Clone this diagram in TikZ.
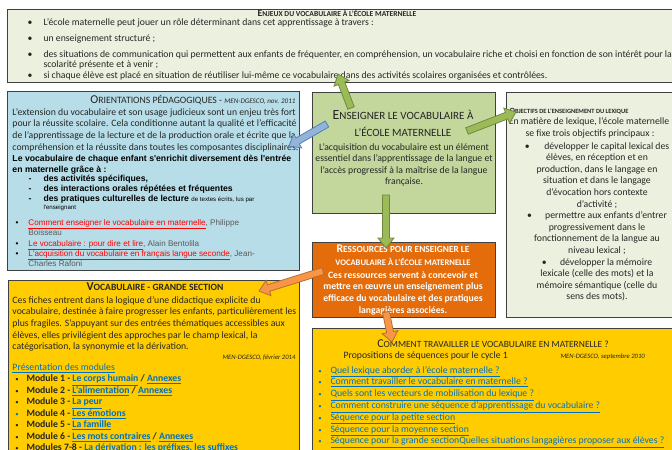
\documentclass[tikz,border=0pt]{standalone}
\usepackage{fontspec}
\setmainfont{Carlito}
\newfontfamily\arialfont{Liberation Sans}
\usetikzlibrary{calc}

\definecolor{paleGreen}{RGB}{235,241,222}
\definecolor{oliveGreen}{RGB}{195,214,155}
\definecolor{paleBlue}{RGB}{183,221,232}
\definecolor{ressOrange}{RGB}{228,108,10}
\definecolor{goldBox}{RGB}{255,204,0}
\definecolor{linkBlue}{RGB}{0,112,192}
\definecolor{linkRed}{RGB}{255,0,0}
\definecolor{authGrey}{RGB}{89,89,89}
\definecolor{txtDark}{RGB}{38,38,38}
\definecolor{arrGreen}{RGB}{155,187,89}
\definecolor{arrGreenD}{RGB}{113,137,63}
\definecolor{arrBlue}{RGB}{149,179,215}
\definecolor{arrBlueD}{RGB}{79,129,189}
\definecolor{arrOrange}{RGB}{247,150,70}
\definecolor{arrOrangeD}{RGB}{182,109,49}
\definecolor{boxLine}{RGB}{64,64,64}

\tikzset{every picture/.style={line width=0.75pt}}
\tikzset{
  txt/.style={inner sep=0pt, text=txtDark, font=\fontsize{7.3}{8.8}\selectfont},
  txtb/.style={inner sep=0pt, text=txtDark, font=\bfseries\fontsize{7.3}{8.8}\selectfont},
  boldarial/.style={inner sep=0pt, text=black, font=\arialfont\bfseries\fontsize{6.5}{7.5}\selectfont},
  linkarial/.style={inner sep=0pt, text=authGrey, font=\arialfont\fontsize{6.1}{7.5}\selectfont},
  italsrc/.style={inner sep=0pt, text=txtDark, font=\itshape\fontsize{5}{6}\selectfont},
  panel/.style={draw=boxLine, line width=0.75pt},
  greenarr/.style={fill=arrGreen, draw=arrGreenD, line width=0.6pt},
  bluearr/.style={fill=arrBlue, draw=arrBlueD, line width=0.6pt},
  orangearr/.style={fill=arrOrange, draw=arrOrangeD, line width=0.6pt},
}

% initial capital + small capitals
\newcommand{\smcaps}[4]{{\fontsize{#1}{#1}\selectfont #3}{\fontsize{#2}{#2}\selectfont #4}}
\newcommand{\lnkb}[1]{{\color{linkBlue}\underline{#1}}}
\newcommand{\lnkr}[1]{{\color{linkRed}\underline{#1}}}
% shape: right arrow between two coordinates
\newcommand{\blockarrow}[3]{%
  \coordinate (ah) at ($(#2)!7.5pt!(#1)$);
  \draw [#3] ($(#1)!2.6pt!90:(#2)$) -- ($(ah)!2.6pt!90:(#2)$) -- ($(ah)!6pt!90:(#2)$) -- (#2) -- ($(ah)!6pt!-90:(#2)$) -- ($(ah)!2.6pt!-90:(#2)$) -- ($(#1)!2.6pt!-90:(#2)$) -- cycle ;}

\begin{document}
\begin{tikzpicture}[x=0.75pt,y=0.75pt,yscale=-1,xscale=1]
\path [use as bounding box] (0,0) rectangle (672,450);
\clip (0,0) rectangle (672,450);

%Shape: Rectangle [enjeux]
\draw [panel, fill=paleGreen] (7,9) rectangle (690,82) ;
%Shape: Rectangle [orientations]
\draw [panel, fill=paleBlue] (7,91) rectangle (299,270) ;
%Shape: Rectangle [enseigner]
\draw [panel, fill=oliveGreen] (312,92) rectangle (495,213) ;
%Shape: Rectangle [objectifs]
\draw [panel, fill=paleGreen] (506,92) rectangle (690,317) ;
%Shape: Rectangle [ressources]
\draw [panel, fill=ressOrange] (312,242) rectangle (495,317) ;
%Shape: Rectangle [grande section]
\draw [panel, fill=goldBox] (8,280) rectangle (299,460) ;
%Shape: Rectangle [comment travailler]
\draw [panel, fill=goldBox] (312,328) rectangle (690,460) ;

% Text Node
\draw (337,16.5) node (enjT) [txt, anchor=base, font=\bfseries] {\smcaps{7.3}{5.7}{E}{NJEUX DU VOCABULAIRE À L'ÉCOLE MATERNELLE}};
% Text Node
\foreach \y [count=\i] in {25.5,41,57,78}
  \draw (30,\y) node (enjB\i) [txt, anchor=base] {\textbullet};
\draw (43,25.5) node (enj1) [txt, anchor=base west] {L'école maternelle peut jouer un rôle déterminant dans cet apprentissage à travers :};
\draw (43,41) node (enj2) [txt, anchor=base west] {un enseignement structuré ;};
\draw (43,57) node (enj3) [txt, anchor=base west] {des situations de communication qui permettent aux enfants de fréquenter, en compréhension, un vocabulaire riche et choisi en fonction de son intérêt pour la};
\draw (43,67.5) node (enj3b) [txt, anchor=base west] {scolarité présente et à venir ;};
\draw (43,78) node (enj4) [txt, anchor=base west] {si chaque élève est placé en situation de réutiliser lui-même ce vocabulaire dans des activités scolaires organisées et contrôlées.};

% Text Node
\draw (296,103) node (oriT) [txt, anchor=base east] {\smcaps{9}{7.3}{O}{RIENTATIONS PÉDAGOGIQUES -} {\itshape\fontsize{5.3}{5}\selectfont MEN-DGESCO, nov. 2011}};
\foreach \ln [count=\i from 0] in {{L'extension du vocabulaire et son usage judicieux sont un enjeu très fort},{pour la réussite scolaire. Cela conditionne autant la qualité et l'efficacité},{de l'apprentissage de la lecture et de la production orale et écrite que la},{compréhension et la réussite dans toutes les composantes disciplinaires.}}
  \draw (12,115+11.7*\i) node (ori\i) [txt, anchor=base west] {\ln};
\draw (12,161) node (oriV1) [boldarial, anchor=base west] {Le vocabulaire de chaque enfant s'enrichit diversement dès l'entrée};
\draw (12,172) node (oriV2) [boldarial, anchor=base west] {en maternelle grâce à :};
\foreach \ln [count=\i from 0] in {{des activités spécifiques,},{des interactions orales répétées et fréquentes},{des pratiques culturelles de lecture {\mdseries\fontsize{4.6}{5}\selectfont de textes écrits, lus par}}}
  \draw (30,181+10*\i) node (oriD\i) [boldarial, anchor=base] {-} (43,181+10*\i) node (oriL\i) [boldarial, anchor=base west] {\ln};
\draw (43,209) node (oriL3) [linkarial, anchor=base west, text=black, font=\arialfont\fontsize{4.6}{5}\selectfont] {l'enseignant};
\foreach \y [count=\i] in {225,246,256}
  \draw (17,\y) node (oriB\i) [linkarial, anchor=base, text=black] {\textbullet};
\draw (28,225) node (ref1) [linkarial, anchor=base west] {\lnkr{Comment enseigner le vocabulaire en maternelle}, Philippe};
\draw (28,235.5) node (ref1b) [linkarial, anchor=base west] {Boisseau};
\draw (28,246) node (ref2) [linkarial, anchor=base west] {\lnkr{Le vocabulaire : pour dire et lire}, Alain Bentolila};
\draw (28,256) node (ref3) [linkarial, anchor=base west] {\lnkr{L'acquisition du vocabulaire en français langue seconde}, Jean-};
\draw (28,266.5) node (ref3b) [linkarial, anchor=base west] {Charles Rafoni};

% Text Node
\draw (403,119) node (ensT1) [txt, anchor=base] {\smcaps{10.5}{8.3}{E}{NSEIGNER LE VOCABULAIRE À}};
\draw (403,136) node (ensT2) [txt, anchor=base] {\smcaps{8.3}{8.3}{}{L'ÉCOLE MATERNELLE}};
\foreach \ln [count=\i from 0] in {{L'acquisition du vocabulaire est un élément},{essentiel dans l'apprentissage de la langue et},{l'accès progressif à la maîtrise de la langue},{française.}}
  \draw (404,150+11.5*\i) node (ens\i) [txt, anchor=base] {\ln};

% Text Node
\draw (569,113) node (objT) [txt, anchor=base, font=\bfseries] {\smcaps{6}{4.8}{O}{BJECTIFS DE L'ENSEIGNEMENT DU LEXIQUE}};
\draw (589,124.5) node (obj0) [txt, anchor=base] {En matière de lexique, l'école maternelle};
\draw (590,136) node (objA) [txt, anchor=base] {se fixe trois objectifs principaux :};
\foreach \ln [count=\i from 0] in {{\textbullet\hspace{11pt}développer le capital lexical des},{élèves, en réception et en},{production, dans le langage en},{situation et dans le langage},{d'évocation hors contexte},{d'activité ;},{\textbullet\hspace{10pt}permettre aux enfants d'entrer},{progressivement dans le},{fonctionnement de la langue au},{niveau lexical ;},{\textbullet\hspace{10pt}développer la mémoire},{lexicale (celle des mots) et la},{mémoire sémantique (celle du},{sens des mots).}}
  \draw (597,149+11.6*\i) node (obj\i) [txt, anchor=base] {\ln};

% Text Node
\draw (403,252) node (resT1) [txt, anchor=base, text=white, font=\bfseries] {\smcaps{8.8}{7}{R}{ESSOURCES POUR ENSEIGNER LE}};
\draw (403,265.5) node (resT2) [txt, anchor=base, text=white, font=\bfseries] {\smcaps{6.4}{6.4}{}{VOCABULAIRE À L'ÉCOLE MATERNELLE}};
\foreach \ln [count=\i from 0] in {{Ces ressources servent à concevoir et},{mettre en œuvre un enseignement plus},{efficace du vocabulaire et des pratiques},{langagières associées.}}
  \draw (403,278+11.7*\i) node (res\i) [txtb, anchor=base, text=white] {\ln};

% Text Node
\draw (155,290) node (gsT) [txt, anchor=base, font=\bfseries] {\smcaps{9}{7.2}{V}{OCABULAIRE - GRANDE SECTION}};
\foreach \ln [count=\i from 0] in {{Ces fiches entrent dans la logique d'une didactique explicite du},{vocabulaire, destinée à faire progresser les enfants, particulièrement les},{plus fragiles. S'appuyant sur des entrées thématiques accessibles aux},{élèves, elles privilégient des approches par le champ lexical, la},{catégorisation, la synonymie et la dérivation.}}
  \draw (12,303+11.7*\i) node (gs\i) [txt, anchor=base west] {\ln};
\draw (296,359) node (gsSrc) [italsrc, anchor=base east] {MEN-DGESCO, février 2014};
\draw (12,370) node (gsPres) [txt, anchor=base west] {\lnkb{Présentation des modules}};
\foreach \ln/\bc [count=\i from 0] in {{Module 1 - \lnkb{Le corps humain} / \lnkb{Annexes}}/txtDark,{Module 2 - \lnkb{L'alimentation} / \lnkb{Annexes}}/txtDark,{Module 3 - \lnkb{La peur}}/txtDark,{Module 4 - \lnkb{Les émotions}}/linkBlue,{Module 5 - \lnkb{La famille}}/txtDark,{Module 6 - \lnkb{Les mots contraires} / \lnkb{Annexes}}/txtDark,{Modules 7-8 - \lnkb{La dérivation : les préfixes, les suffixes}}/txtDark}
  \draw (17,381.5+11.5*\i) node (gsB\i) [txt, anchor=base, text=\bc, font=\fontsize{5}{5}\selectfont] {\textbullet} (26,381.5+11.5*\i) node (gsM\i) [txtb, anchor=base west] {\ln};

% Text Node
\draw (493,347) node (ctT) [txt, anchor=base] {\smcaps{9}{7.1}{C}{OMMENT TRAVAILLER LE VOCABULAIRE EN MATERNELLE ?}};
\draw (343,358) node (ctSub) [txt, anchor=base west] {Propositions de séquences pour le cycle 1};
\draw (560,358) node (ctSrc) [italsrc, anchor=base west] {MEN-DGESCO, septembre 2010};
\foreach \ln [count=\i from 0] in {{Quel lexique aborder à l'école maternelle ?},{Comment travailler le vocabulaire en maternelle ?},{Quels sont les vecteurs de mobilisation du lexique ?},{Comment construire une séquence d'apprentissage du vocabulaire ?},{Séquence pour la petite section},{Séquence pour la moyenne section},{Séquence pour la grande sectionQuelles situations langagières proposer aux élèves ?}}
  \draw (320,373+11.8*\i) node (ctB\i) [txt, anchor=base, text=linkBlue, font=\fontsize{5}{5}\selectfont] {\textbullet} (330,373+11.8*\i) node (ct\i) [txt, anchor=base west] {\lnkb{\ln}};

%Shape: Right Arrow [links]
\coordinate (upS) at (351,108);   \coordinate (upE) at (338,74);
\coordinate (rtS) at (467,131);   \coordinate (rtE) at (516,112);
\coordinate (lfS) at (327,124);   \coordinate (lfE) at (289,146);
\coordinate (dnS) at (386,195);   \coordinate (dnE) at (386,248);
\coordinate (olS) at (323,271);   \coordinate (olE) at (259,291);
\coordinate (odS) at (386,312);   \coordinate (odE) at (392,342);
\blockarrow{upS}{upE}{greenarr}
\blockarrow{rtS}{rtE}{greenarr}
\blockarrow{lfS}{lfE}{bluearr}
\blockarrow{dnS}{dnE}{greenarr}
\blockarrow{olS}{olE}{orangearr}
\blockarrow{odS}{odE}{orangearr}

\end{tikzpicture}
\end{document}
